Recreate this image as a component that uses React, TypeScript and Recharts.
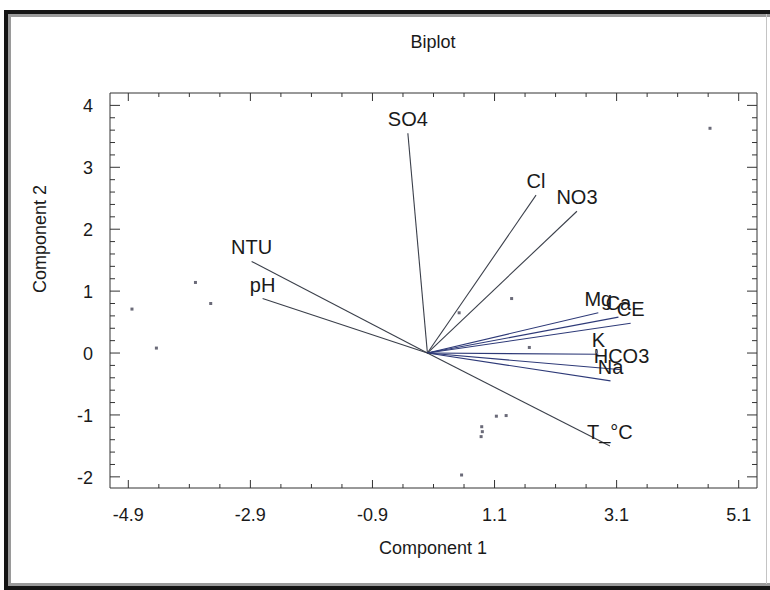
import React from 'react';
import { ScatterChart, Scatter, XAxis, YAxis } from 'recharts';

// ---- data ----
const vectorNames = ['SO4', 'Cl', 'NO3', 'NTU', 'pH', 'Mg', 'Ca', 'CE', 'K', 'HCO3', 'Na', 'T_°C'];
const vectorX = [-0.32, 1.78, 2.45, -2.88, -2.7, 2.8, 3.13, 3.33, 2.8, 3.18, 3.0, 2.99];
const vectorY = [3.55, 2.55, 2.29, 1.48, 0.88, 0.65, 0.58, 0.48, -0.02, -0.27, -0.45, -1.5];

const obsX = [-4.84, -4.44, -3.8, -3.55, 4.63, 1.38, 0.52, 1.67, 2.77, 1.13, 1.29, 0.89, 0.9, 0.88, 0.56];
const obsY = [0.71, 0.08, 1.14, 0.8, 3.63, 0.88, 0.65, 0.09, 0.02, -1.02, -1.01, -1.19, -1.27, -1.35, -1.97];

const xMajorTicks = [-4.9, -2.9, -0.9, 1.1, 3.1, 5.1];
const yMajorTicks = [-2, -1, 0, 1, 2, 3, 4];
const xDomain = [-5.2, 5.4];
const yDomain = [-2.18, 4.2];

// ---- derived ----
function steps(start: number, end: number, step: number) {
  const out: number[] = [];
  for (let v = start; v <= end + 1e-9; v += step) out.push(Math.round(v * 10) / 10);
  return out;
}
const xAllTicks = steps(-4.9, 5.1, 0.5);
const yAllTicks = steps(-2, 4, 0.2);
const isMajor = (list: number[], v: number) => list.some((m) => Math.abs(m - v) < 1e-6);

const blueGroup = ['Mg', 'Ca', 'CE', 'K', 'HCO3', 'Na'];
const vectors = vectorNames.map((name, i) => ({
  name,
  data: [
    { x: 0, y: 0, label: '' },
    { x: vectorX[i], y: vectorY[i], label: name },
  ],
}));
const observations = obsX.map((x, i) => ({ x, y: obsY[i] }));

const FONT = '"Liberation Sans", Arial, Helvetica, sans-serif';
const INK = '#1a1a1a';
const AXIS = '#333';

const BottomTick = (props: any) => {
  const { x, y, payload } = props;
  const major = isMajor(xMajorTicks, payload.value);
  return (
    <g>
      <line x1={x} x2={x} y1={y} y2={y - (major ? 8 : 4)} stroke={AXIS} strokeWidth={1} />
      {major && (
        <text x={x} y={y + 33} textAnchor="middle" fontSize={18} fontFamily={FONT} fill={INK}>
          {Number(payload.value).toFixed(1)}
        </text>
      )}
    </g>
  );
};

const TopTick = (props: any) => {
  const { x, y, payload } = props;
  const major = isMajor(xMajorTicks, payload.value);
  return <line x1={x} x2={x} y1={y} y2={y + (major ? 8 : 4)} stroke={AXIS} strokeWidth={1} />;
};

const LeftTick = (props: any) => {
  const { x, y, payload } = props;
  const major = isMajor(yMajorTicks, payload.value);
  return (
    <g>
      <line x1={x} x2={x + (major ? 10 : 5)} y1={y} y2={y} stroke={AXIS} strokeWidth={1} />
      {major && (
        <text x={x - 17} y={y + 7} textAnchor="end" fontSize={18} fontFamily={FONT} fill={INK}>
          {String(Math.round(payload.value))}
        </text>
      )}
    </g>
  );
};

const RightTick = (props: any) => {
  const { x, y, payload } = props;
  const major = isMajor(yMajorTicks, payload.value);
  return <line x1={x} x2={x - (major ? 10 : 5)} y1={y} y2={y} stroke={AXIS} strokeWidth={1} />;
};

const VectorEnd = (props: any) => {
  const { cx, cy, payload } = props;
  if (!payload || !payload.label) return <g />;
  return (
    <text x={cx} y={cy - 7} textAnchor="middle" fontSize={20} fontFamily={FONT} fill={INK}>
      {payload.label}
    </text>
  );
};

const ObsMark = (props: any) => {
  const { cx, cy } = props;
  return <rect x={cx - 1.5} y={cy - 1.5} width={3} height={3} fill="#6a6a78" />;
};

export default function App() {
  return (
    <div
      style={{
        position: 'absolute',
        left: 0,
        top: 0,
        width: 770,
        height: 590,
        background: '#fff',
        overflow: 'hidden',
        fontFamily: FONT,
      }}
    >
      {/* outer frame */}
      <div
        style={{
          position: 'absolute',
          left: 4,
          top: 10,
          width: 770,
          height: 580,
          boxSizing: 'border-box',
          borderLeft: '4px solid #141414',
          borderTop: '4px solid #141414',
          borderBottom: '4px solid #141414',
        }}
      >
        <div
          style={{
            position: 'absolute',
            left: 0,
            top: 0,
            right: 0,
            bottom: 0,
            boxSizing: 'border-box',
            borderLeft: '3px solid #9a9a9a',
            borderTop: '3px solid #9a9a9a',
            borderBottom: '3px solid #9a9a9a',
          }}
        />
      </div>
      <div style={{ position: 'absolute', left: 766, top: 14, width: 1, height: 570, background: '#c4c4c4' }} />

      {/* titles */}
      <div
        style={{
          position: 'absolute',
          left: 0,
          width: 866,
          top: 31,
          textAlign: 'center',
          fontSize: 18,
          color: INK,
          lineHeight: '22px',
        }}
      >
        Biplot
      </div>
      <div
        style={{
          position: 'absolute',
          left: 0,
          width: 866,
          top: 537,
          textAlign: 'center',
          fontSize: 18,
          color: INK,
          lineHeight: '22px',
        }}
      >
        Component 1
      </div>
      <div
        style={{
          position: 'absolute',
          left: 40,
          top: 239,
          transform: 'translate(-50%, -50%) rotate(-90deg)',
          fontSize: 18,
          color: INK,
          lineHeight: '22px',
          whiteSpace: 'nowrap',
        }}
      >
        Component 2
      </div>

      <div style={{ position: 'absolute', left: 0, top: 0 }}>
        <ScatterChart width={770} height={590} margin={{ top: 92, right: 12, bottom: 42, left: 50 }}>
          <XAxis
            xAxisId="main"
            type="number"
            dataKey="x"
            domain={xDomain}
            allowDataOverflow
            ticks={xAllTicks}
            interval={0}
            tickSize={0}
            tickMargin={0}
            tick={<BottomTick />}
            axisLine={{ stroke: AXIS }}
            tickLine={false}
            height={60}
            orientation="bottom"
          />
          <XAxis
            xAxisId="top"
            type="number"
            dataKey="x"
            domain={xDomain}
            allowDataOverflow
            ticks={xAllTicks}
            interval={0}
            tickSize={0}
            tickMargin={0}
            tick={<TopTick />}
            axisLine={{ stroke: AXIS }}
            tickLine={false}
            height={1}
            orientation="top"
          />
          <YAxis
            yAxisId="main"
            type="number"
            dataKey="y"
            domain={yDomain}
            allowDataOverflow
            ticks={yAllTicks}
            interval={0}
            tickSize={0}
            tickMargin={0}
            tick={<LeftTick />}
            axisLine={{ stroke: AXIS }}
            tickLine={false}
            width={60}
            orientation="left"
          />
          <YAxis
            yAxisId="right"
            type="number"
            dataKey="y"
            domain={yDomain}
            allowDataOverflow
            ticks={yAllTicks}
            interval={0}
            tickSize={0}
            tickMargin={0}
            tick={<RightTick />}
            axisLine={{ stroke: AXIS }}
            tickLine={false}
            width={1}
            orientation="right"
          />
          {vectors.map((v) => (
            <Scatter
              key={v.name}
              name={v.name}
              xAxisId="main"
              yAxisId="main"
              data={v.data}
              line={{ stroke: blueGroup.includes(v.name) ? '#2e3a78' : '#3a3f4a', strokeWidth: 1.1 }}
              shape={<VectorEnd />}
              isAnimationActive={false}
            />
          ))}
          <Scatter
            name="observations"
            xAxisId="top"
            yAxisId="right"
            data={observations}
            shape={<ObsMark />}
            isAnimationActive={false}
          />
        </ScatterChart>
      </div>
    </div>
  );
}
